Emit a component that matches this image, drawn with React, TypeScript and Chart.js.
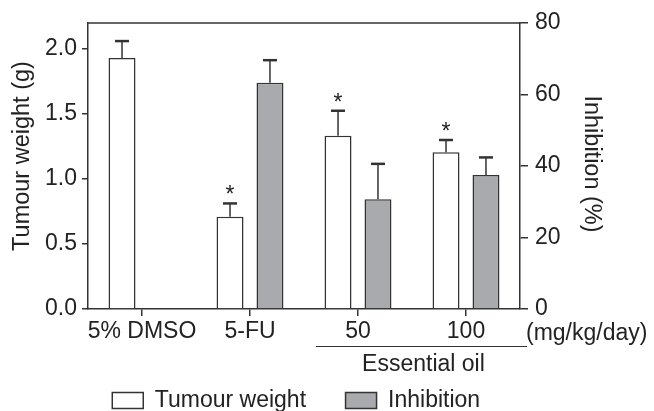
import { useEffect, useRef } from 'react';
import { Chart, registerables } from 'chart.js';

Chart.register(...registerables);

// ---- data ----
const categories = ['5% DMSO', '5-FU', '50', '100'];
const tumourWeight = [1.93, 0.71, 1.333, 1.205];
const tumourWeightErr = [0.131, 0.102, 0.192, 0.095];
const inhibition: (number | null)[] = [null, 63.3, 30.7, 37.5];
const inhibitionErr: (number | null)[] = [null, 6.3, 9.9, 4.9];
const significant = [false, true, true, true];
const leftTicks = [0, 0.5, 1.0, 1.5, 2.0];
const rightTicks = [0, 20, 40, 60, 80];
const unitLabel = '(mg/kg/day)';
const groupLabel = 'Essential oil';
const leftTitle = 'Tumour weight (g)';
const rightTitle = 'Inhibition (%)';

const FONT = "'Liberation Sans', Arial, sans-serif";
const INK = '#222222';
const AXIS = '#333333';
const GRAY = '#a9aaad';

const overlay = {
  id: 'overlay',
  afterDatasetsDraw(chart: any) {
    const ctx = chart.ctx as CanvasRenderingContext2D;
    const xs = chart.scales.x;
    const yL = chart.scales.y;
    const yR = chart.scales.y1;
    const { left, right, top, bottom } = chart.chartArea;
    ctx.save();
    // top frame line
    ctx.strokeStyle = AXIS;
    ctx.lineWidth = 1.5;
    ctx.beginPath();
    ctx.moveTo(left - 0.75, top);
    ctx.lineTo(right + 0.75, top);
    ctx.stroke();

    const drawErr = (dsIndex: number, vals: (number | null)[], errs: (number | null)[], scale: any, stars: boolean) => {
      const meta = chart.getDatasetMeta(dsIndex);
      meta.data.forEach((el: any, i: number) => {
        const v = vals[i];
        const e = errs[i];
        if (v == null || e == null) return;
        const yBar = scale.getPixelForValue(v);
        const yTop = scale.getPixelForValue(v + e);
        ctx.strokeStyle = AXIS;
        ctx.lineWidth = 1.5;
        ctx.beginPath();
        ctx.moveTo(el.x, yBar);
        ctx.lineTo(el.x, yTop);
        ctx.stroke();
        ctx.lineWidth = 2.5;
        ctx.beginPath();
        ctx.moveTo(el.x - 7, yTop);
        ctx.lineTo(el.x + 7, yTop);
        ctx.stroke();
        if (stars && significant[i]) {
          ctx.fillStyle = INK;
          ctx.font = `23px ${FONT}`;
          ctx.textAlign = 'center';
          ctx.textBaseline = 'alphabetic';
          ctx.fillText('*', el.x, yTop - 1);
        }
      });
    };
    drawErr(0, tumourWeight, tumourWeightErr, yL, true);
    drawErr(1, inhibition, inhibitionErr, yR, false);

    // axis titles
    ctx.fillStyle = INK;
    ctx.font = `23.5px ${FONT}`;
    ctx.textAlign = 'center';
    ctx.textBaseline = 'middle';
    ctx.save();
    ctx.translate(left - 65, (top + bottom) / 2 - 10);
    ctx.rotate(-Math.PI / 2);
    ctx.fillText(leftTitle, 0, 0);
    ctx.restore();
    ctx.save();
    ctx.translate(right + 71, (top + bottom) / 2 - 2);
    ctx.rotate(Math.PI / 2);
    ctx.fillText(rightTitle, 0, 0);
    ctx.restore();

    // unit label and group bracket
    ctx.font = `23px ${FONT}`;
    ctx.textAlign = 'left';
    ctx.textBaseline = 'alphabetic';
    ctx.fillText(unitLabel, right + 6, bottom + 31);
    const catW = xs.getPixelForValue(1) - xs.getPixelForValue(0);
    const uL = xs.getPixelForValue(2) - catW * 0.39;
    const uR = right + 7;
    ctx.strokeStyle = AXIS;
    ctx.lineWidth = 1.2;
    ctx.beginPath();
    ctx.moveTo(uL, bottom + 37.5);
    ctx.lineTo(uR, bottom + 37.5);
    ctx.stroke();
    ctx.textAlign = 'center';
    ctx.fillText(groupLabel, (uL + uR) / 2 + 2, bottom + 62);
    ctx.restore();
  },
};

export default function App() {
  const ref = useRef<HTMLCanvasElement | null>(null);
  useEffect(() => {
    if (!ref.current) return;
    const chart = new Chart(ref.current, {
      type: 'bar',
      data: {
        labels: categories,
        datasets: [
          {
            label: 'Tumour weight',
            data: tumourWeight,
            yAxisID: 'y',
            backgroundColor: '#ffffff',
            borderColor: AXIS,
            borderWidth: 1.5,
            categoryPercentage: 0.74,
            barPercentage: 0.675,
          },
          {
            label: 'Inhibition',
            data: inhibition,
            yAxisID: 'y1',
            backgroundColor: GRAY,
            borderColor: AXIS,
            borderWidth: 1.5,
            categoryPercentage: 0.74,
            barPercentage: 0.675,
          },
        ],
      },
      options: {
        responsive: false,
        animation: false,
        layout: { padding: { left: 0, right: 61.6, top: 23, bottom: -11 } },
        plugins: {
          tooltip: { enabled: false },
          legend: {
            position: 'bottom',
            labels: {
              boxWidth: 31,
              boxHeight: 16,
              padding: 39.5,
              color: INK,
              font: { family: FONT, size: 23 },
            },
          },
        },
        scales: {
          x: {
            type: 'category',
            offset: true,
            grid: {
              display: true,
              drawOnChartArea: false,
              drawTicks: true,
              tickLength: 7,
              offset: false,
              color: AXIS,
              lineWidth: 1.5,
            },
            border: { display: true, color: AXIS, width: 1.5 },
            ticks: {
              color: INK,
              font: { family: FONT, size: 23 },
              padding: 2,
              maxRotation: 0,
              autoSkip: false,
            },
            afterFit: (s: any) => {
              s.height = 40.5;
            },
          },
          y: {
            type: 'linear',
            position: 'left',
            min: 0,
            max: 2.2,
            afterBuildTicks: (s: any) => {
              s.ticks = leftTicks.map((v) => ({ value: v }));
            },
            ticks: {
              color: INK,
              font: { family: FONT, size: 23 },
              padding: 5,
              callback: (v: any) => Number(v).toFixed(1),
            },
            grid: {
              drawOnChartArea: false,
              drawTicks: true,
              tickLength: 6,
              color: AXIS,
              lineWidth: 1.5,
            },
            border: { display: true, color: AXIS, width: 1.5 },
            afterFit: (s: any) => {
              s.width = 88;
            },
          },
          y1: {
            type: 'linear',
            position: 'right',
            min: 0,
            max: 80,
            afterBuildTicks: (s: any) => {
              s.ticks = rightTicks.map((v) => ({ value: v }));
            },
            ticks: {
              color: INK,
              font: { family: FONT, size: 23 },
              padding: 7,
            },
            grid: {
              drawOnChartArea: false,
              drawTicks: true,
              tickLength: 8,
              color: AXIS,
              lineWidth: 1.5,
            },
            border: { display: true, color: AXIS, width: 1.5 },
            afterFit: (s: any) => {
              s.width = 72.4;
            },
          },
        },
      },
      plugins: [overlay],
    } as any);
    return () => chart.destroy();
  }, []);
  return (
    <div style={{ position: 'absolute', left: 0, top: 0, width: 654, height: 411, background: '#fff' }}>
      <canvas ref={ref} width={654} height={411} style={{ width: 654, height: 411, display: 'block' }} />
    </div>
  );
}
